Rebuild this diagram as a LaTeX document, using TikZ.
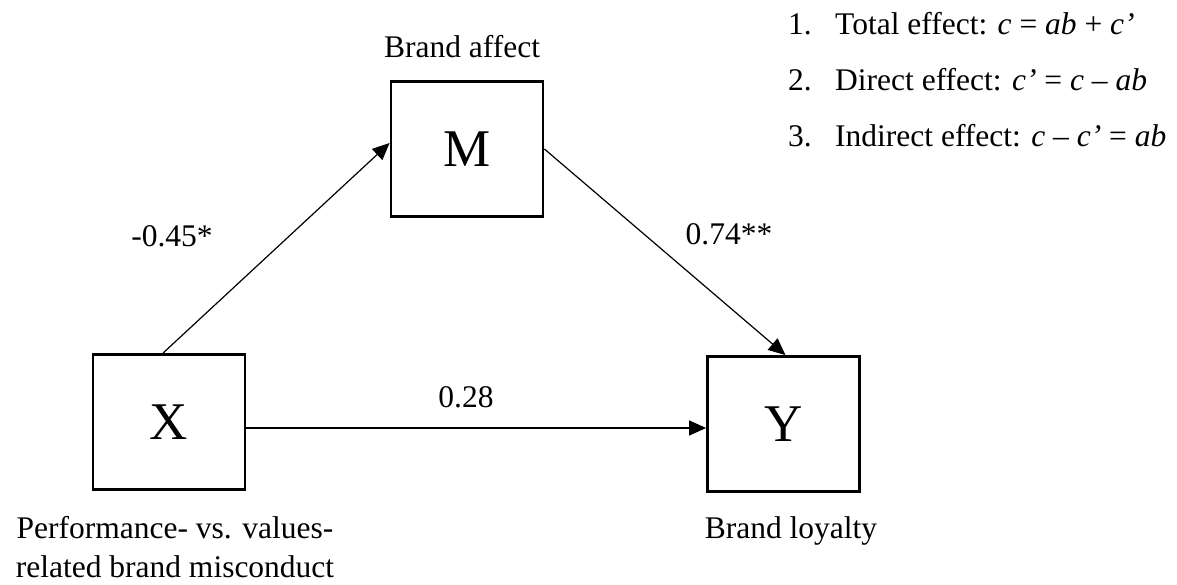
\documentclass[tikz,border=0pt]{standalone}
\usepackage{fontspec}
\setmainfont{Liberation Serif}
\usetikzlibrary{arrows.meta}
\begin{document}
\begin{tikzpicture}[x=1pt,y=-1pt,
  box/.style={draw, line width=2.8pt, minimum width=152pt, minimum height=135pt, inner sep=0pt, font=\fontsize{53}{60}\selectfont},
  lbl/.style={inner sep=0pt, anchor=base, font=\fontsize{31.5}{38}\selectfont},
  item/.style={inner sep=0pt, anchor=base west, font=\fontsize{31.5}{38}\selectfont},
  conn/.style={line width=1.2pt, -{Triangle[length=17pt,width=15pt]}}]
\useasboundingbox (0,0) rectangle (1177,585);
\node[box] (M) at (467,149) {M};
\node[box] (X) at (169,422) {X};
\node[box] (Y) at (783.5,424) {Y};
\node[lbl] (lm) at (462,58) {Brand affect};
\node[lbl] (lx1) at (175,538) {Performance- vs. values-};
\node[lbl] (lx2) at (175,577) {related brand misconduct};
\node[lbl] (ly) at (791,538) {Brand loyalty};
\node[lbl] (a) at (172,247) {-0.45*};
\node[lbl] (b) at (729,244) {0.74**};
\node[lbl] (c) at (466,407) {0.28};
\draw[conn] ([xshift=-6pt]X.north) -- ([yshift=6pt]M.west);
\draw[conn] (M.east) -- ([xshift=2pt]Y.north);
\draw[conn] ([yshift=-6pt]X.east) -- ([yshift=-6pt]X.east -| Y.west);
\node[item] (n1) at (788,35) {1.};
\node[item] (t1) at (835,35) {Total effect: \textit{c} = \textit{ab} + \textit{c’}};
\node[item] (n2) at (788,91) {2.};
\node[item] (t2) at (835,91) {Direct effect: \textit{c’} = \textit{c} – \textit{ab}};
\node[item] (n3) at (788,147) {3.};
\node[item] (t3) at (835,147) {Indirect effect: \textit{c} – \textit{c’} = \textit{ab}};
\end{tikzpicture}
\end{document}
